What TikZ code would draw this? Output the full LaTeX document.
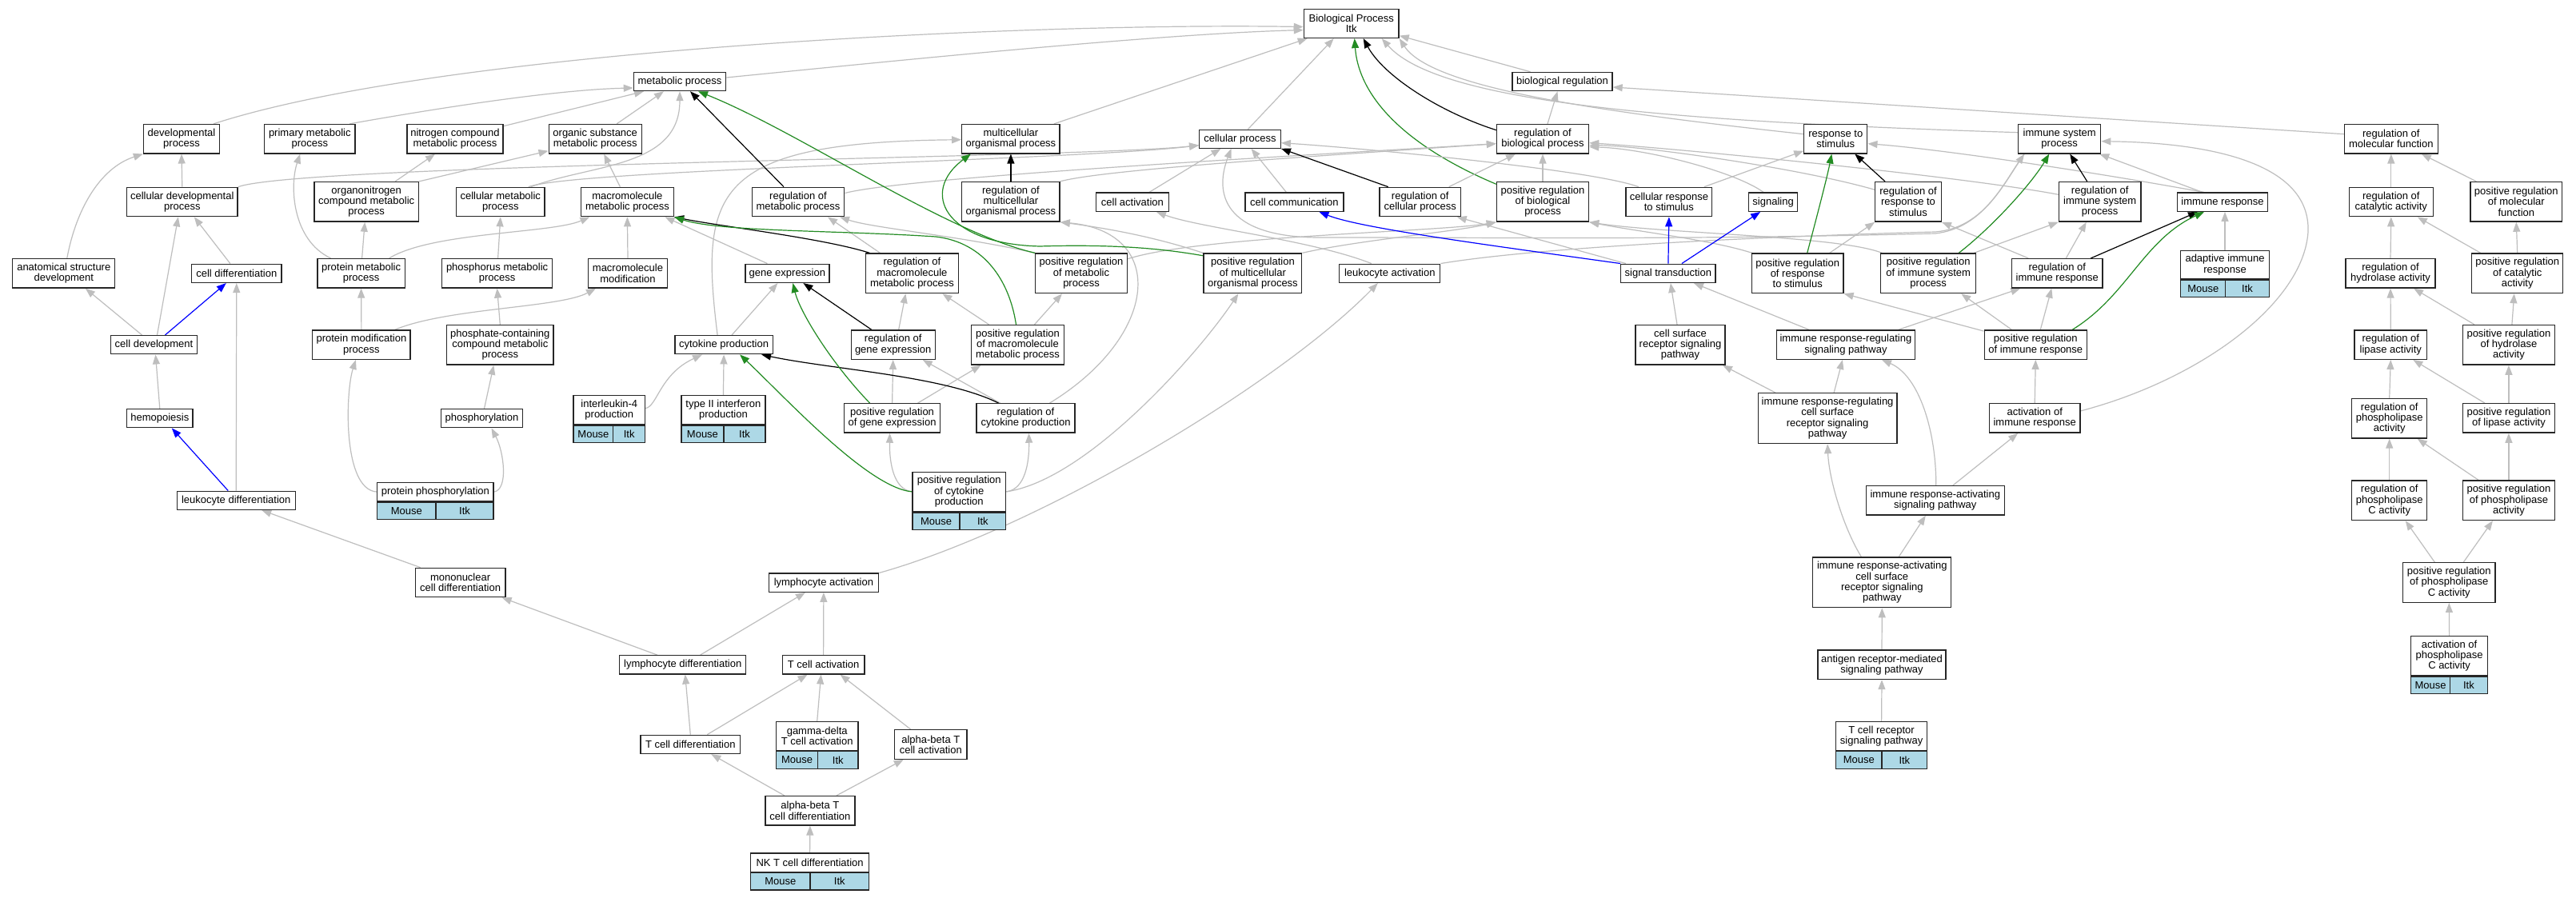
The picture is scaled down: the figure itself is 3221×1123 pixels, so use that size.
\documentclass[tikz,border=0pt]{standalone}
\usepackage{fontspec}
\setmainfont{Liberation Sans}
\usetikzlibrary{arrows.meta}
\definecolor{edgegray}{RGB}{190,190,190}
\definecolor{fgreen}{RGB}{34,139,34}
\definecolor{lblue}{RGB}{173,216,230}
\pgfdeclarelayer{bg}
\pgfsetlayers{bg,main}
\newcommand\GOnode[6]{\node[box,minimum width=#4,minimum height=#5] (#1) at (#2,#3) {#6};}
\newcommand\GOmouse[7]{\GOnode{#1}{#2}{#3}{#4}{#5}{#7}%
  \node[cell,minimum width=#6,anchor=north west] (#1m) at (#1.south west) {Mouse};%
  \node[cell,minimum width=#4-#6,anchor=north east] (#1i) at (#1.south east) {Itk};}
\begin{document}
\begin{tikzpicture}[x=1pt,y=-1pt,
  box/.style={draw=black!85,line width=1.3pt,fill=white,inner sep=0pt,align=center,font=\fontsize{13}{13.3}\selectfont},
  cell/.style={box,fill=lblue,minimum height=21.5},
  eg/.style={draw=edgegray,line width=1.2pt,-{Triangle[length=12pt,width=9pt]}},
  ek/.style={eg,draw=black},
  eG/.style={eg,draw=fgreen},
  eb/.style={eg,draw=blue}]
\useasboundingbox (0,0) rectangle (3221,1123);
% row 0-2
\GOnode{bp}{1689.7}{29.6}{118.7}{35.7}{Biological Process\\Itk}
\GOnode{metab}{850}{102}{115.3}{23.2}{metabolic process}
\GOnode{bioreg}{1953.5}{102}{125}{23.2}{biological regulation}
\GOnode{devp}{227}{173.7}{95}{36.4}{developmental\\process}
\GOnode{primm}{387.3}{173.7}{113.5}{36.4}{primary metabolic\\process}
\GOnode{nitro}{569}{173.7}{120}{36.4}{nitrogen compound\\metabolic process}
\GOnode{orgsub}{744.2}{173.7}{116}{36.4}{organic substance\\metabolic process}
\GOnode{multi}{1263.9}{173.7}{122.4}{36.4}{multicellular\\organismal process}
\GOnode{cellp}{1550.5}{173.7}{101.5}{23}{cellular process}
\GOnode{regbp}{1929}{173.7}{115.1}{36.4}{regulation of\\biological process}
\GOnode{resp}{2295.3}{173.7}{79}{36.4}{response to\\stimulus}
\GOnode{imsys}{2575.2}{173.7}{103.1}{36.4}{immune system\\process}
\GOnode{regmf}{2989.8}{173.7}{116.8}{36.4}{regulation of\\molecular function}
% row 3
\GOnode{celldev}{227.8}{252.5}{138.6}{36.4}{cellular developmental\\process}
\GOnode{orgnit}{458.2}{252.3}{130.7}{49.6}{organonitrogen\\compound metabolic\\process}
\GOnode{cellmet}{625.8}{252.5}{110.4}{36.4}{cellular metabolic\\process}
\GOnode{macro}{784.4}{252.5}{116}{36.4}{macromolecule\\metabolic process}
\GOnode{regmet}{998}{252.5}{115.6}{36.4}{regulation of\\metabolic process}
\GOnode{regmulti}{1263.9}{252.3}{122.4}{49.6}{regulation of\\multicellular\\organismal process}
\GOnode{cellact}{1415.9}{252.7}{90.5}{23.2}{cell activation}
\GOnode{cellcom}{1618.4}{252.7}{123}{23.2}{cell communication}
\GOnode{regcell}{1775.7}{252.5}{101.5}{36.4}{regulation of\\cellular process}
\GOnode{posbp}{1929}{252.3}{115.1}{49.6}{positive regulation\\of biological\\process}
\GOnode{cresp}{2086.9}{252.5}{107.7}{36.4}{cellular response\\to stimulus}
\GOnode{signaling}{2217.1}{252.7}{60.7}{23.2}{signaling}
\GOnode{regresp}{2386}{252.3}{82.4}{49.6}{regulation of\\response to\\stimulus}
\GOnode{regimsys}{2625.7}{252.3}{102.6}{49.6}{regulation of\\immune system\\process}
\GOnode{imresp}{2779}{252.7}{113.1}{23.2}{immune response}
\GOnode{regcat}{2989.8}{252.5}{105.2}{36.4}{regulation of\\catalytic activity}
\GOnode{posmf}{3146.3}{252.3}{114.7}{49.6}{positive regulation\\of molecular\\function}
% row 4
\GOnode{anat}{79.8}{341.8}{128}{36.4}{anatomical structure\\development}
\GOnode{celldiff}{295.8}{341.8}{112.5}{23.2}{cell differentiation}
\GOnode{protmet}{451.6}{341.8}{109.3}{36.4}{protein metabolic\\process}
\GOnode{phosmet}{621.6}{341.8}{137.6}{36.4}{phosphorus metabolic\\process}
\GOnode{macmod}{785}{341.8}{99}{36.4}{macromolecule\\modification}
\GOnode{geneexp}{984.4}{341.8}{105.1}{23.2}{gene expression}
\GOnode{regmacro}{1140.4}{341.8}{116.1}{49.6}{regulation of\\macromolecule\\metabolic process}
\GOnode{posmet}{1352}{341.8}{114.5}{49.6}{positive regulation\\of metabolic\\process}
\GOnode{posmulti}{1566.4}{341.8}{122.7}{49.6}{positive regulation\\of multicellular\\organismal process}
\GOnode{leukact}{1737.8}{341.8}{126}{23.2}{leukocyte activation}
\GOnode{sigtrans}{2085.9}{341.8}{118.2}{23.2}{signal transduction}
\GOnode{posresp}{2247.7}{341.8}{114.5}{49.6}{positive regulation\\of response\\to stimulus}
\GOnode{posimsys}{2411.2}{341.8}{119.1}{49.6}{positive regulation\\of immune system\\process}
\GOnode{regimresp}{2572.3}{341.8}{113.1}{36.4}{regulation of\\immune response}
\GOmouse{adapt}{2782}{331.05}{110.5}{35.7}{56}{adaptive immune\\response}
\GOnode{reghyd}{2989}{341.8}{112}{36.4}{regulation of\\hydrolase activity}
\GOnode{poscat}{3147.7}{341.8}{114.1}{49.6}{positive regulation\\of catalytic\\activity}
% row 5
\GOnode{celldevt}{192.5}{431.2}{107.7}{23.2}{cell development}
\GOnode{protmod}{451.9}{431.1}{122.4}{36.4}{protein modification\\process}
\GOnode{phosc}{625.3}{431.3}{133.4}{49.6}{phosphate-containing\\compound metabolic\\process}
\GOnode{cytok}{905.1}{431.2}{122.4}{23.2}{cytokine production}
\GOnode{reggene}{1116.7}{431.1}{105.1}{36.4}{regulation of\\gene expression}
\GOnode{posmacro}{1272.5}{431.3}{115.6}{49.6}{positive regulation\\of macromolecule\\metabolic process}
\GOnode{csr}{2101}{431.3}{111.9}{49.6}{cell surface\\receptor signaling\\pathway}
\GOnode{irrsp}{2307.9}{431.1}{173.1}{36.4}{immune response-regulating\\signaling pathway}
\GOnode{posimresp}{2545.3}{431.1}{128.2}{36.4}{positive regulation\\of immune response}
\GOnode{reglip}{2989.3}{431.1}{90.6}{36.4}{regulation of\\lipase activity}
\GOnode{poshyd}{3136.9}{431.3}{114.7}{49.6}{positive regulation\\of hydrolase\\activity}
% row 6
\GOnode{hemo}{199.8}{523.2}{82.6}{23.2}{hemopoiesis}
\GOnode{phosph}{602.5}{523.2}{101.4}{23.2}{phosphorylation}
\GOmouse{il4}{761.8}{512.65}{89.4}{36.1}{49.7}{interleukin-4\\production}
\GOmouse{ifn}{904.4}{512.65}{105.1}{36.1}{53.2}{type II interferon\\production}
\GOnode{posgene}{1115.6}{522.9}{119.8}{36.4}{positive regulation\\of gene expression}
\GOnode{regcyt}{1282.5}{522.9}{122.9}{36.4}{regulation of\\cytokine production}
\GOnode{irrcsr}{2285.1}{523.2}{173.6}{62.8}{immune response-regulating\\cell surface\\receptor signaling\\pathway}
\GOnode{actimresp}{2544.2}{522.9}{113.6}{36.4}{activation of\\immune response}
\GOnode{regphos}{2987.7}{523.2}{93.8}{49.6}{regulation of\\phospholipase\\activity}
\GOnode{poslip}{3136.9}{522.9}{114.7}{36.4}{positive regulation\\of lipase activity}
% row 7
\GOnode{leukdiff}{295.2}{625.8}{148}{23.2}{leukocyte differentiation}
\GOmouse{protphos}{544.4}{615.1}{145.4}{23}{73.3}{protein phosphorylation}
\GOmouse{poscyt}{1199.3}{614.9}{116.6}{49.4}{59.1}{positive regulation\\of cytokine\\production}
\GOnode{irasp}{2419.8}{625.9}{173.1}{36.4}{immune response-activating\\signaling pathway}
\GOnode{regplc}{2987.7}{625.7}{93.8}{49.6}{regulation of\\phospholipase\\C activity}
\GOnode{posphos}{3136.9}{625.7}{114.7}{49.6}{positive regulation\\of phospholipase\\activity}
% row 8
\GOnode{mono}{575.6}{728.5}{112.5}{36.4}{mononuclear\\cell differentiation}
\GOnode{lymact}{1029.9}{728.7}{137.5}{23.2}{lymphocyte activation}
\GOnode{iracsr}{2353.3}{728.3}{173}{62.8}{immune response-activating\\cell surface\\receptor signaling\\pathway}
\GOnode{posplc}{3062.3}{728.5}{115.2}{49.6}{positive regulation\\of phospholipase\\C activity}
% row 9
\GOnode{lymdiff}{853.7}{831.3}{158.2}{23.2}{lymphocyte differentiation}
\GOnode{tact}{1029.6}{831.3}{102.5}{23.2}{T cell activation}
\GOnode{antigen}{2353}{831.3}{160}{36.4}{antigen receptor-mediated\\signaling pathway}
\GOmouse{actplc}{3062.6}{820.3}{95.8}{49}{48.7}{activation of\\phospholipase\\C activity}
% row 10-12
\GOnode{tdiff}{863.3}{930.9}{124.5}{23.2}{T cell differentiation}
\GOmouse{gd}{1021.7}{920.5}{102.5}{36}{52.3}{gamma-delta\\T cell activation}
\GOnode{abact}{1163.8}{931}{90.5}{36.4}{alpha-beta T\\cell activation}
\GOmouse{tcr}{2352.6}{920.5}{114}{36}{57.5}{T cell receptor\\signaling pathway}
\GOnode{abdiff}{1012.9}{1013.8}{111.9}{36.4}{alpha-beta T\\cell differentiation}
\GOmouse{nkt}{1012.6}{1078.65}{148}{23.1}{74.3}{NK T cell differentiation}

\begin{pgfonlayer}{bg}
\fill[white] (0,0) rectangle (3221,1123);
% to Biological Process
\draw[eg] ([xshift=40]devp.north) .. controls (560,60) and (1300,28) .. ([yshift=-4]bp.west);
\draw[eg] ([yshift=5]metab.east) .. controls (1100,78) and (1450,42) .. ([yshift=-8]bp.west);
\draw[eg] ([xshift=54]multi.north) -- ([xshift=-55]bp.south);
\draw[eg] ([xshift=10]cellp.north) -- ([xshift=-22]bp.south);
\draw[eg] ([xshift=-40]bioreg.north) -- ([yshift=-15]bp.east);
\draw[eg] ([yshift=6]resp.west) .. controls (2000,140) and (1790,110) .. (bp.south east);
\draw[eg] ([yshift=8]imsys.west) .. controls (2100,152) and (1800,130) .. ([xshift=38]bp.south);
\draw[eg] ([yshift=6]regmf.west) -- ([yshift=-7]bioreg.east);
\draw[eg] ([xshift=6]regbp.north) -- ([xshift=-6]bioreg.south);
\draw[ek] ([yshift=11]regbp.west) .. controls (1800,140) and (1730,95) .. ([xshift=15]bp.south);
\draw[eG] ([yshift=22]posbp.west) .. controls (1740,175) and (1698,110) .. ([xshift=4]bp.south);
% metabolic
\draw[eg] ([xshift=50]primm.north) .. controls (560,133) and (700,112) .. ([yshift=-8]metab.west);
\draw[eg] ([yshift=16]nitro.east) -- ([xshift=-45]metab.south);
\draw[eg] ([xshift=27]orgsub.north) -- ([xshift=-20]metab.south);
\draw[eg] ([xshift=38]cellmet.north) .. controls (740,205) and (850,210) .. (metab.south);
\draw[eg] ([xshift=-9]macro.north) -- ([xshift=11]orgsub.south);
\draw[eg] ([xshift=36]orgnit.north) -- ([xshift=-25]nitro.south);
\draw[eg] (orgnit.north east) -- ([yshift=-15]orgsub.west);
\draw[eg] (celldev.north) -- (devp.south);
\draw[eg] (celldev.north east) .. controls (380,205) and (1350,198) .. ([yshift=-8]cellp.west);
\draw[eg] ([xshift=35]cellmet.north) .. controls (720,212) and (1350,200) .. ([yshift=-8]cellp.west);
\draw[eg] ([xshift=4]anat.north) .. controls (95,262) and (125,210) .. (devp.south west);
\draw[eg] ([xshift=-15]celldevt.north) -- ([xshift=27]anat.south);
\draw[eg] ([xshift=4]celldevt.north) -- ([xshift=-5]celldev.south);
\draw[eb] ([xshift=14]celldevt.north) -- ([xshift=-13]celldiff.south);
\draw[eg] ([xshift=-8]celldiff.north) -- ([xshift=15]celldev.south);
\draw[eg] (leukdiff.north) -- (celldiff.south);
\draw[eb] ([xshift=-10]leukdiff.north) -- ([xshift=15]hemo.south);
\draw[eg] (hemo.north) -- ([xshift=2]celldevt.south);
\draw[eg] ([xshift=-50]mono.north) -- ([xshift=32]leukdiff.south);
\draw[eg] ([xshift=-32]lymdiff.north) -- ([xshift=52]mono.south);
\draw[eg] ([xshift=-38]protmet.north) .. controls (365,300) and (362,232) .. ([xshift=-12]primm.south);
\draw[eg] ([xshift=1]protmet.north) -- ([xshift=-2]orgnit.south);
\draw[eg] ([xshift=35]protmet.north) .. controls (540,290) and (690,292) .. ([xshift=-47]macro.south);
\draw[eg] (protmod.north) -- (protmet.south);
\draw[eg] ([xshift=42]protmod.north) .. controls (560,385) and (700,385) .. ([xshift=-40]macmod.south);
\draw[eg] (macmod.north) -- (macro.south);
\draw[eg] ([xshift=1]phosmet.north) -- (cellmet.south);
\draw[eg] (phosc.north) -- (phosmet.south);
\draw[eg] ([xshift=3]phosph.north) -- ([xshift=-8]phosc.south);
\draw[eg] (protphos.west) .. controls (428,612) and (432,490) .. ([xshift=-7]protmod.south);
\draw[eg] (protphos.east) .. controls (636,612) and (630,565) .. ([xshift=12]phosph.south);
\draw[eg] ([yshift=2]il4.east) .. controls (822,508) and (825,468) .. ([xshift=-27]cytok.south);
\draw[eg] (ifn.north) -- (cytok.south);
\draw[eg] ([xshift=10]cytok.north) -- ([xshift=-12]geneexp.south);
\draw[eg] ([xshift=-8]cytok.north) .. controls (875,240) and (890,178) .. ([yshift=-1]multi.west);
\draw[eg] ([xshift=7]reggene.north) -- ([xshift=-8]regmacro.south);
\draw[eg] ([xshift=-25]geneexp.north) -- ([xshift=47]macro.south);
\draw[eg] ([xshift=-40]regmacro.north) -- ([xshift=37]regmet.south);
\draw[eg] (posmet.north west) .. controls (1200,295) and (1090,285) .. ([xshift=52]regmet.south);
\draw[eg] ([yshift=11]regmet.east) .. controls (1130,222) and (1600,196) .. ([yshift=-6]regbp.west);
\draw[eg] (regmulti.north east) .. controls (1380,212) and (1650,195) .. ([yshift=-6]regbp.west);
\draw[eg] ([xshift=36]regcell.north) -- ([xshift=-34]regbp.south);
\draw[eg] (posbp.north) -- (regbp.south);
\draw[eg] ([yshift=15]regresp.west) .. controls (2250,210) and (2050,182) .. ([yshift=-8]regbp.east);
\draw[eg] ([yshift=9]regimsys.west) .. controls (2450,220) and (2100,186) .. ([yshift=-5]regbp.east);
\draw[eg] ([xshift=-12]signaling.north) .. controls (2170,215) and (2060,186) .. ([yshift=-10]regbp.east);
\draw[eg] ([xshift=44]cresp.north) -- ([yshift=-15]resp.west);
\draw[eg] ([xshift=-38]cresp.north) .. controls (1990,212) and (1700,185) .. ([yshift=-5]cellp.east);
\draw[eg] ([xshift=-23]imresp.north) .. controls (2600,212) and (2420,186) .. ([yshift=-6]resp.east);
\draw[eg] ([xshift=-25]imresp.north) -- ([xshift=50]imsys.south);
\draw[eg] (adapt.north) -- ([xshift=3]imresp.south);
\draw[eg] ([xshift=11]regimresp.north) -- ([xshift=-17]regimsys.south);
\draw[eg] ([xshift=-36]regimresp.north) -- (regresp.south east);
\draw[eg] ([xshift=57]posimsys.north) -- (regimsys.south west);
\draw[eg] ([xshift=-58]posimsys.north) .. controls (2300,295) and (2080,292) .. (posbp.south east);
\draw[eg] ([xshift=-57]posresp.north) .. controls (2140,300) and (2050,290) .. (posbp.south east);
\draw[eg] ([xshift=40]posresp.north) -- (regresp.south west);
\draw[eg] (posmulti.north east) .. controls (1700,300) and (1820,290) .. (posbp.south west);
\draw[eg] ([yshift=18]posmet.east) .. controls (1500,295) and (1800,290) .. (posbp.south west);
\draw[eg] (posmulti.north west) .. controls (1440,295) and (1380,285) .. (regmulti.south east);
\draw[eg] ([xshift=30]regcyt.north) .. controls (1450,420) and (1460,290) .. (regmulti.south east);
\draw[eg] ([xshift=-32]regcyt.north) -- ([xshift=37]reggene.south);
\draw[eg] (posgene.north) -- (reggene.south);
\draw[eg] ([xshift=32]posgene.north) -- ([xshift=-46]posmacro.south);
\draw[eg] ([xshift=-36]posmacro.north) -- ([xshift=38]regmacro.south);
\draw[eg] ([xshift=21]posmacro.north) -- ([xshift=-24]posmet.south);
\draw[eg] (poscyt.east) .. controls (1360,600) and (1500,440) .. ([xshift=-18]posmulti.south);
\draw[eg] (poscyt.east) .. controls (1282,612) and (1287,578) .. ([xshift=4]regcyt.south);
\draw[eg] (poscyt.west) .. controls (1117,612) and (1112,578) .. ([xshift=-3]posgene.south);
\draw[eg] (lymact.north east) .. controls (1300,660) and (1600,480) .. ([xshift=-15]leukact.south);
\draw[eg] ([xshift=-23]leukact.north) .. controls (1640,300) and (1500,285) .. ([xshift=30]cellact.south);
\draw[eg] (leukact.north east) .. controls (1950,305) and (2300,293) .. (2420,290) .. controls (2480,285) and (2505,230) .. ([xshift=-44]imsys.south);
\draw[eg] ([xshift=21]cellact.north) -- ([xshift=-24]cellp.south);
\draw[eg] ([xshift=-10]cellcom.north) -- ([xshift=14]cellp.south);
\draw[eg] ([xshift=-44]imsys.south) .. controls (2505,230) and (2480,285) .. (2420,292) .. controls (2100,300) and (1900,297) .. (1650,297) .. controls (1540,297) and (1515,250) .. ([xshift=-11]cellp.south);
\draw[eb] (sigtrans.north west) .. controls (1850,305) and (1700,285) .. ([xshift=31]cellcom.south);
\draw[eb] (sigtrans.north) -- (cresp.south);
\draw[eb] ([xshift=17]sigtrans.north) -- ([xshift=-16]signaling.south);
\draw[eg] ([xshift=-53]sigtrans.north) -- ([xshift=46]regcell.south);
\draw[eg] ([xshift=-4]csr.north) -- ([xshift=3]sigtrans.south);
\draw[eg] ([xshift=-46]irrsp.north) -- ([xshift=32]sigtrans.south);
\draw[eg] ([xshift=66]irrsp.north) -- ([xshift=-46]regimresp.south);
\draw[eg] ([xshift=-65]irrcsr.north) -- ([xshift=53]csr.south);
\draw[eg] ([xshift=8]irrcsr.north) -- ([xshift=-4]irrsp.south);
\draw[eg] ([xshift=1]irasp.north) .. controls (2421,540) and (2400,470) .. ([xshift=45]irrsp.south);
\draw[eg] ([xshift=22]irasp.north) -- ([xshift=-21]actimresp.south);
\draw[eg] ([xshift=-26]iracsr.north) .. controls (2305,660) and (2287,600) .. (irrcsr.south);
\draw[eg] ([xshift=21]iracsr.north) -- ([xshift=-12]irasp.south);
\draw[eg] (antigen.north) -- (iracsr.south);
\draw[eg] (tcr.north) -- (antigen.south);
\draw[eg] (actimresp.north) -- (posimresp.south);
\draw[eg] ([yshift=9]actimresp.east) .. controls (2750,475) and (2880,380) .. (2886,290) .. controls (2890,190) and (2720,178) .. ([yshift=-3]imsys.east);
\draw[eg] ([yshift=17]posimresp.west) -- (posresp.south east);
\draw[eg] ([xshift=-30]posimresp.north) -- ([xshift=41]posimsys.south);
\draw[eg] ([xshift=6]posimresp.north) -- ([xshift=-7]regimresp.south);
% right column
\draw[eg] (regcat.north) -- (regmf.south);
\draw[eg] ([xshift=-50]posmf.north) -- ([xshift=38]regmf.south);
\draw[eg] (reghyd.north) -- (regcat.south);
\draw[eg] ([xshift=-46]poscat.north) -- ([xshift=33]regcat.south);
\draw[eg] (poscat.north) -- (posmf.south);
\draw[eg] (reglip.north) -- (reghyd.south);
\draw[eg] ([xshift=-43]poshyd.north) -- ([xshift=29]reghyd.south);
\draw[eg] ([xshift=4]poshyd.north) -- ([xshift=-4]poscat.south);
\draw[eg] (regphos.north) -- (reglip.south);
\draw[eg] ([xshift=-30]poslip.north) -- ([xshift=28]reglip.south);
\draw[eg] (poslip.north) -- (poshyd.south);
\draw[eg] (regplc.north) -- (regphos.south);
\draw[eg] ([xshift=-38]posphos.north) -- ([xshift=35]regphos.south);
\draw[eg] (posphos.north) -- (poslip.south);
\draw[eg] ([xshift=-18]posplc.north) -- ([xshift=20]regplc.south);
\draw[eg] ([xshift=18]posplc.north) -- ([xshift=-20]posphos.south);
\draw[eg] (actplc.north) -- (posplc.south);
% lymphocytes
\draw[eg] ([xshift=22]lymdiff.north) -- ([xshift=-23]lymact.south);
\draw[eg] (tact.north) -- (lymact.south);
\draw[eg] (tdiff.north) -- ([xshift=3]lymdiff.south);
\draw[eg] ([xshift=21]tdiff.north) -- ([xshift=-20]tact.south);
\draw[eg] (gd.north) -- ([xshift=-3]tact.south);
\draw[eg] ([xshift=-25]abact.north) -- ([xshift=21]tact.south);
\draw[eg] ([xshift=-32]abdiff.north) -- ([xshift=26]tdiff.south);
\draw[eg] ([xshift=33]abdiff.north) -- ([xshift=-34]abact.south);
\draw[eg] (nkt.north) -- (abdiff.south);
% regulates (black)
\draw[ek] ([xshift=-18]regmet.north) -- ([xshift=13]metab.south);
\draw[ek] ([xshift=-53]regmacro.north) .. controls (1030,298) and (900,283) .. (macro.south east);
\draw[ek] (regmulti.north) -- (multi.south);
\draw[ek] ([xshift=-27]reggene.north) -- ([xshift=20]geneexp.south);
\draw[ek] ([xshift=-34]regcyt.north) .. controls (1180,470) and (1040,462) .. ([xshift=47]cytok.south);
\draw[ek] ([xshift=-40]regcell.north) -- (cellp.south east);
\draw[ek] ([xshift=-29]regresp.north) -- ([xshift=24]resp.south);
\draw[ek] ([xshift=-16]regimsys.north) -- ([xshift=13]imsys.south);
\draw[ek] ([xshift=42]regimresp.north) -- ([xshift=-31]imresp.south);
% positively regulates (green)
\draw[eG] (posmet.north west) .. controls (1180,290) and (1000,165) .. ([xshift=23]metab.south);
\draw[eG] ([xshift=-2]posmacro.north) .. controls (1262,350) and (1230,303) .. (1170,296) .. controls (1050,288) and (900,290) .. (macro.south east);
\draw[eG] ([yshift=22]posmulti.west) .. controls (1460,312) and (1400,305) .. (1300,308) .. controls (1180,305) and (1150,240) .. ([xshift=-50]multi.south);
\draw[eG] ([xshift=-28]posgene.north) .. controls (1040,455) and (1000,390) .. ([xshift=7]geneexp.south);
\draw[eG] (poscyt.west) .. controls (1085,610) and (980,495) .. ([xshift=20]cytok.south);
\draw[eG] ([xshift=12]posresp.north) .. controls (2272,270) and (2285,220) .. ([xshift=-5]resp.south);
\draw[eG] ([xshift=38]posimsys.north) .. controls (2490,285) and (2540,230) .. ([xshift=-13]imsys.south);
\draw[eG] ([xshift=46]posimresp.north) .. controls (2660,370) and (2680,300) .. ([xshift=-23]imresp.south);
\end{pgfonlayer}
\end{tikzpicture}
\end{document}
